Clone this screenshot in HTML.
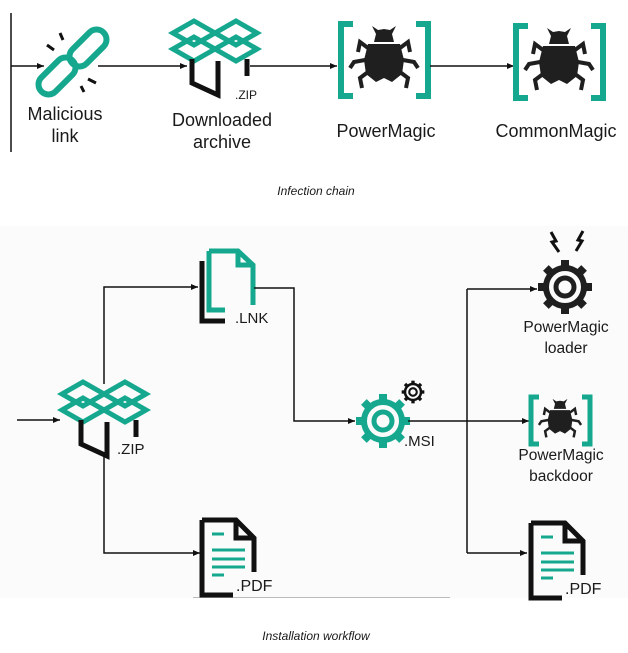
<!DOCTYPE html>
<html><head><meta charset="utf-8"><style>
html,body{margin:0;padding:0;background:#fff;width:628px;height:653px;overflow:hidden}
svg{display:block}
text{font-family:"Liberation Sans",sans-serif;fill:#1a1a1a}
</style></head><body>
<svg width="628" height="653" viewBox="0 0 628 653" xmlns="http://www.w3.org/2000/svg">
<defs>
<marker id="ar" markerWidth="8" markerHeight="8" refX="7" refY="4" orient="auto" markerUnits="userSpaceOnUse">
<path d="M0,1 L7,4 L0,7 Z" fill="#111"/></marker>
<g id="box">
<g fill="none" stroke="#16a88e" stroke-width="5">
<path d="M21,0 L42,12 L21,24 L0,12 Z"/>
<path d="M63,0 L84,12 L63,24 L42,12 Z"/>
<path d="M21,16 L42,28 L21,40 L0,28 Z"/>
<path d="M63,16 L84,28 L63,40 L42,28 Z"/>
</g>
<path d="M19,38 V62 L45,74 V40 M74,38 V55" fill="none" stroke="#111" stroke-width="5"/>
</g>
<g id="bug" fill="#1f1f1f">
<path d="M-8,-26 L-12,-34 L-6,-30 L0,-31 L6,-30 L12,-34 L8,-26 L10,-18 L-10,-18 Z"/>
<path d="M-16,-16 H16 L20,0 L18,14 L8,22 L0,18 L-8,22 L-18,14 L-20,0 Z"/>
<path d="M-16,-12 L-24,-18 L-26,-8 M16,-12 L24,-18 L26,-8 M-19,0 L-30,2 L-34,8 M19,0 L30,2 L34,8 M-16,12 L-24,18 L-22,28 M16,12 L24,18 L22,28" fill="none" stroke="#1f1f1f" stroke-width="4"/>
</g>
<g id="gear">
<circle r="19" fill="none" stroke-width="6"/>
<circle r="9" fill="none" stroke-width="5"/>
<g stroke="none">
<rect x="-4" y="-27" width="8" height="9"/><rect x="-4" y="18" width="8" height="9"/>
<rect x="-27" y="-4" width="9" height="8"/><rect x="18" y="-4" width="9" height="8"/>
<rect x="-4" y="-27" width="8" height="9" transform="rotate(45)"/><rect x="-4" y="18" width="8" height="9" transform="rotate(45)"/>
<rect x="-27" y="-4" width="9" height="8" transform="rotate(45)"/><rect x="18" y="-4" width="9" height="8" transform="rotate(45)"/>
</g>
</g>
<g id="pdf">
<path d="M2,2 H36 L54,20 V54 M36,2 V20 H54 M2,2 V77 H33" fill="none" stroke="#111" stroke-width="5"/>
<g stroke="#16a88e" stroke-width="3">
<path d="M12,16 H24 M12,32 H45 M12,41 H45 M12,49 H45 M12,57 H24"/></g>
</g>
</defs>

<!-- Infection chain -->
<line x1="11" y1="13" x2="11" y2="152" stroke="#111" stroke-width="1.5"/>
<line x1="11" y1="66" x2="44" y2="66" stroke="#111" stroke-width="1.5" marker-end="url(#ar)"/>
<g fill="none" stroke="#16a88e" stroke-width="6">
<rect x="78" y="26" width="20" height="44" rx="10" transform="rotate(45 88 48)"/>
<rect x="47" y="54" width="20" height="44" rx="10" transform="rotate(45 57 76)"/>
</g>
<g stroke="#111" stroke-width="3">
<path d="M47,45 L54,50 M60,33 L63,40 M88,79 L96,83 M81,86 L84,92"/></g>
<line x1="98" y1="66" x2="187" y2="66" stroke="#111" stroke-width="1.5" marker-end="url(#ar)"/>
<use href="#box" x="173" y="21"/>
<text x="235" y="99" font-size="12">.ZIP</text>
<line x1="250" y1="66" x2="337" y2="66" stroke="#111" stroke-width="1.5" marker-end="url(#ar)"/>
<path d="M353,24 H341 V96 H353 M416,24 H428 V96 H416" fill="none" stroke="#16a88e" stroke-width="6"/>
<use href="#bug" x="384" y="60"/>
<line x1="430" y1="66" x2="514" y2="66" stroke="#111" stroke-width="1.5" marker-end="url(#ar)"/>
<path d="M528,26 H516 V98 H528 M591,26 H603 V98 H591" fill="none" stroke="#16a88e" stroke-width="6"/>
<use href="#bug" x="559" y="62"/>
<g font-size="18" text-anchor="middle">
<text x="65" y="120">Malicious</text><text x="65" y="142">link</text>
<text x="222" y="126">Downloaded</text><text x="222" y="148">archive</text>
<text x="386" y="137">PowerMagic</text>
<text x="556" y="137">CommonMagic</text>
</g>
<text x="316" y="195" font-size="12" font-style="italic" text-anchor="middle">Infection chain</text>

<!-- Installation workflow -->
<rect x="0" y="226" width="628" height="372" fill="#fbfbfb"/>
<line x1="193" y1="597.5" x2="450" y2="597.5" stroke="#bbb" stroke-width="1"/>
<line x1="17" y1="420" x2="60" y2="420" stroke="#111" stroke-width="1.5" marker-end="url(#ar)"/>
<use href="#box" x="62" y="382"/>
<text x="117" y="454" font-size="15">.ZIP</text>
<path d="M104,384 V287 H198" fill="none" stroke="#111" stroke-width="1.5" marker-end="url(#ar)"/>
<path d="M104,452 V553 H200" fill="none" stroke="#111" stroke-width="1.5" marker-end="url(#ar)"/>
<path d="M202,261 V321 H225" fill="none" stroke="#111" stroke-width="5"/>
<path d="M209,251 V310 H225 M209,251 H238 L253,265 V305 M238,251 V265 H253" fill="none" stroke="#16a88e" stroke-width="5"/>
<text x="235" y="323" font-size="15">.LNK</text>
<path d="M254,288 H294 V421 H355" fill="none" stroke="#111" stroke-width="1.5" marker-end="url(#ar)"/>
<use href="#gear" x="383" y="421" stroke="#16a88e" fill="#16a88e"/>
<g transform="translate(413,392) scale(0.42)"><use href="#gear" stroke="#111" fill="#111"/></g>
<text x="404" y="446" font-size="15">.MSI</text>
<line x1="408" y1="421" x2="467" y2="421" stroke="#111" stroke-width="1.5"/>
<line x1="467" y1="289" x2="467" y2="553" stroke="#111" stroke-width="1.5"/>
<line x1="467" y1="289" x2="537" y2="289" stroke="#111" stroke-width="1.5" marker-end="url(#ar)"/>
<line x1="467" y1="421" x2="529" y2="421" stroke="#111" stroke-width="1.5" marker-end="url(#ar)"/>
<line x1="467" y1="553" x2="527" y2="553" stroke="#111" stroke-width="1.5" marker-end="url(#ar)"/>
<use href="#gear" x="565" y="287" stroke="#1f1f1f" fill="#1f1f1f"/>
<path d="M551,232 L556,241 L552,242 L559,252 M583,231 L578,240 L582,241 L576,251" fill="none" stroke="#111" stroke-width="3"/>
<path d="M539,397 H531 V444 H539 M582,397 H590 V444 H582" fill="none" stroke="#16a88e" stroke-width="5"/>
<g transform="translate(560,420) scale(0.62)"><use href="#bug"/></g>
<use href="#pdf" x="200" y="518"/>
<text x="236" y="591" font-size="16">.PDF</text>
<use href="#pdf" x="529" y="521"/>
<text x="565" y="594" font-size="16">.PDF</text>
<g font-size="15.5" text-anchor="middle">
<text x="566" y="332">PowerMagic</text><text x="566" y="353">loader</text>
<text x="561" y="460">PowerMagic</text><text x="561" y="481">backdoor</text>
</g>
<text x="316" y="640" font-size="12" font-style="italic" text-anchor="middle">Installation workflow</text>
</svg>
</body></html>
